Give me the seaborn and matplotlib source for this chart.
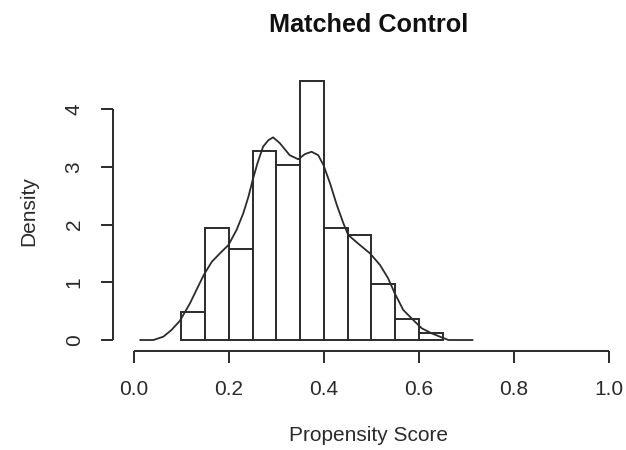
import matplotlib
matplotlib.use("Agg")
import matplotlib.pyplot as plt
import seaborn as sns
import pandas as pd

# ---- data ----
breaks = [0.10, 0.15, 0.20, 0.25, 0.30, 0.35, 0.40, 0.45, 0.50, 0.55, 0.60, 0.65]
bin_mids = [0.125, 0.175, 0.225, 0.275, 0.325, 0.375, 0.425, 0.475, 0.525, 0.575, 0.625]
heights = [0.485, 1.939, 1.576, 3.273, 3.030, 4.485, 1.939, 1.818, 0.970, 0.364, 0.121]

dens_x = [0.013, 0.041, 0.062, 0.079, 0.097, 0.118, 0.135, 0.147, 0.164, 0.181,
          0.199, 0.216, 0.230, 0.241, 0.250, 0.260, 0.272, 0.283, 0.293, 0.307,
          0.328, 0.346, 0.360, 0.374, 0.388, 0.399, 0.413, 0.427, 0.441, 0.451,
          0.472, 0.497, 0.518, 0.535, 0.549, 0.567, 0.588, 0.606, 0.627, 0.644,
          0.662, 0.713]
dens_y = [0.0, 0.0, 0.058, 0.173, 0.335, 0.635, 0.924, 1.125, 1.356, 1.50,
          1.645, 1.905, 2.19, 2.48, 2.77, 3.06, 3.35, 3.46, 3.51, 3.41,
          3.20, 3.13, 3.22, 3.26, 3.20, 3.03, 2.71, 2.34, 2.02, 1.82,
          1.67, 1.50, 1.30, 1.07, 0.81, 0.52, 0.346, 0.202, 0.115, 0.058,
          0.0, 0.0]

x_ticks = [0.0, 0.2, 0.4, 0.6, 0.8, 1.0]
x_ticklabels = ["0.0", "0.2", "0.4", "0.6", "0.8", "1.0"]
y_ticks = [0, 1, 2, 3, 4]
y_ticklabels = ["0", "1", "2", "3", "4"]

title = "Matched Control"
xlabel = "Propensity Score"
ylabel = "Density"

# ---- style ----
sns.set_theme(style="ticks")
plt.rcParams["font.family"] = ["Liberation Sans", "DejaVu Sans"]

W, H = 626, 450
fig = plt.figure(figsize=(W / 100, H / 100), dpi=100)
fig.patch.set_facecolor("white")

left_px, right_px, top_px, bot_px = 113, 628, 71.5, 350.7
ax = fig.add_axes([left_px / W, 1 - bot_px / H,
                   (right_px - left_px) / W, (bot_px - top_px) / H])
ax.set_facecolor("white")

LC = "#2b2b2b"
LW = 1.4

hist_df = pd.DataFrame({"x": bin_mids, "w": heights})
sns.histplot(data=hist_df, x="x", weights="w", bins=breaks, stat="count",
             fill=True, color="white", edgecolor=LC, linewidth=LW,
             alpha=1.0, ax=ax)

dens_df = pd.DataFrame({"x": dens_x, "y": dens_y})
sns.lineplot(data=dens_df, x="x", y="y", color=LC, linewidth=1.3,
             sort=False, estimator=None, ax=ax)

ax.set_xlim(-0.044, 1.04)
ax.set_ylim(-0.185, 4.65)
ax.set_xticks(x_ticks)
ax.set_xticklabels(x_ticklabels)
ax.set_yticks(y_ticks)
ax.set_yticklabels(y_ticklabels)

for sp in ["top", "right"]:
    ax.spines[sp].set_visible(False)
ax.spines["left"].set_bounds(0, 4)
ax.spines["bottom"].set_bounds(0, 1)
for sp in ["left", "bottom"]:
    ax.spines[sp].set_linewidth(LW)
    ax.spines[sp].set_color(LC)
    ax.spines[sp].set_capstyle("butt")

fs = 15
TC = "#2a2a2a"
ax.tick_params(axis="both", length=8.8, width=LW, color=LC,
               labelsize=fs, labelcolor=TC, pad=12.3)
for lab in ax.get_yticklabels():
    lab.set_rotation(90)
    lab.set_va("center")
    lab.set_ha("right")

ax.set_xlabel(xlabel, fontsize=fs, color=TC)
ax.set_ylabel(ylabel, fontsize=fs, color=TC)
ax_w = right_px - left_px
ax_h = bot_px - top_px
ax.xaxis.set_label_coords((368.8 - left_px) / ax_w, -(426 - bot_px) / ax_h)
ax.yaxis.label.set_va("center")
ax.yaxis.set_label_coords((29 - left_px) / ax_w, 0.5)

ax.text((369 - left_px) / ax_w, (bot_px - 31.7) / ax_h, title,
        transform=ax.transAxes, ha="center", va="baseline",
        fontsize=18.2, fontweight="bold", color="#111111", clip_on=False)

fig.savefig("out.png", dpi=100, facecolor="white")
